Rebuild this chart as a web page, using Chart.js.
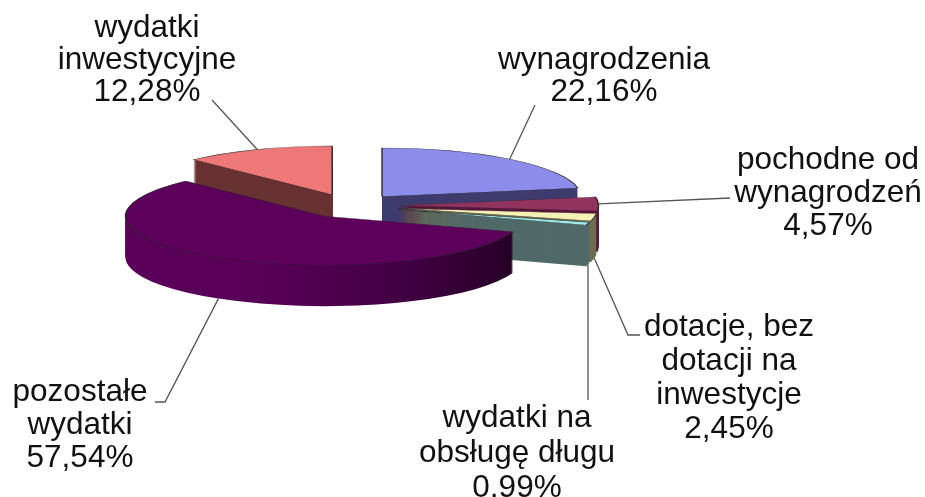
<!DOCTYPE html>
<html>
<head>
<meta charset="utf-8">
<script src="https://cdn.jsdelivr.net/npm/chart.js@4"></script>
<style>
html, body { margin: 0; padding: 0; background: #fff; }
canvas { display: block; filter: blur(0.45px); }
</style>
</head>
<body>
<canvas id="wydatki" width="925" height="497"></canvas>
<script>
// categories and values
var kategorie = [
  ['wynagrodzenia'],
  ['pochodne od', 'wynagrodzeń'],
  ['dotacje, bez', 'dotacji na', 'inwestycje'],
  ['wydatki na', 'obsługę długu'],
  ['pozostałe', 'wydatki'],
  ['wydatki', 'inwestycyjne']
];
var wartosci = [22.16, 4.57, 2.45, 0.99, 57.54, 12.28];

var koloryGora = ['#8c8ceb', '#92325f', '#f5f0b4', '#a0ebeb', '#5c005c', '#ee7878'];
var koloryBok = ['#3e3c6e', '#5a143c', '#6e6e50', '#506969', null, '#693232'];

// 3D look: centre of the unexploded pie, squash, explosion and depth
var srodekX = 350.6, srodekY = 206;
var splaszcz = 0.246;
var wysuniecie = 49;
var glebokosc = 41;
var kolejnosc = [0, 5, 1, 2, 3, 4];

// label centres, first line y, and leader bends
var etykietaX = [604, 828, 729, 517, 80, 147];
var etykietaY = [60, 160, 327, 418, 392, 28];
var krokLinii = [32, 33, 34, 35, 33, 32];
var linieOd = [[535, 105], [730, 198], [640, 335], [588, 400], [155, 402], [212, 100]];
var linieZalamanie = [null, null, [628, 335], null, [165, 402], null];
var linieDolem = [false, false, true, true, true, false];

function kawalek(luk, opcje) {
  var kopia = Object.create(luk);
  kopia.options = Object.assign({}, luk.options, opcje);
  return kopia;
}

function ustaw(ctx, luk, dy) {
  var pol = (luk.startAngle + luk.endAngle) / 2;
  ctx.translate(srodekX + wysuniecie * Math.cos(pol), srodekY + dy + wysuniecie * splaszcz * Math.sin(pol));
  ctx.scale(1, splaszcz);
  ctx.translate(-luk.x, -luk.y);
}

var pie3d = {
  id: 'pie3d',
  beforeDatasetsDraw: function (chart) {
    var ctx = chart.ctx;
    var luki = chart.getDatasetMeta(0).data;
    kolejnosc.forEach(function (i) {
      var luk = luki[i];
      var bok = koloryBok[i];
      if (!bok) {
        // big slice has a shaded rim
        var gr = ctx.createLinearGradient(luk.x - luk.outerRadius, 0, luk.x + luk.outerRadius, 0);
        gr.addColorStop(0, '#5a005a');
        gr.addColorStop(0.35, '#580058');
        gr.addColorStop(0.72, '#400040');
        gr.addColorStop(1, '#240024');
        bok = gr;
      }
      var boczny = kawalek(luk, { backgroundColor: bok, borderColor: bok, borderWidth: 0 });
      for (var d = glebokosc; d > 0; d--) {
        ctx.save();
        ustaw(ctx, luk, d);
        boczny.draw(ctx);
        ctx.restore();
      }
      ctx.save();
      ustaw(ctx, luk, 0);
      luk.draw(ctx);
      ctx.restore();
    });
    return false;
  },
  afterDraw: function (chart) {
    var ctx = chart.ctx;
    var luki = chart.getDatasetMeta(0).data;
    ctx.save();
    ctx.strokeStyle = '#555';
    ctx.lineWidth = 1.3;
    luki.forEach(function (luk, i) {
      var pol = (luk.startAngle + luk.endAngle) / 2;
      var ax = srodekX + wysuniecie * Math.cos(pol) + luk.outerRadius * Math.cos(pol);
      var ay = srodekY + (wysuniecie + luk.outerRadius) * splaszcz * Math.sin(pol) + (linieDolem[i] ? glebokosc : 0);
      ctx.beginPath();
      ctx.moveTo(ax, ay);
      if (linieZalamanie[i]) ctx.lineTo(linieZalamanie[i][0], linieZalamanie[i][1]);
      ctx.lineTo(linieOd[i][0], linieOd[i][1]);
      ctx.stroke();
    });
    ctx.fillStyle = '#111';
    ctx.font = '31.5px "Liberation Sans", Arial, sans-serif';
    ctx.textAlign = 'center';
    ctx.textBaseline = 'middle';
    kategorie.forEach(function (linie, i) {
      var wiersze = linie.concat([wartosci[i].toFixed(2).replace('.', ',') + '%']);
      wiersze.forEach(function (t, n) {
        ctx.fillText(t, etykietaX[i], etykietaY[i] + n * krokLinii[i]);
      });
    });
    ctx.restore();
  }
};

new Chart(document.getElementById('wydatki').getContext('2d'), {
  type: 'pie',
  data: {
    labels: kategorie.map(function (k) { return k.join(' '); }),
    datasets: [{
      data: wartosci,
      backgroundColor: koloryGora,
      borderColor: '#2a2a2a',
      borderWidth: 1.4
    }]
  },
  options: {
    responsive: false,
    animation: false,
    radius: 199,
    plugins: { legend: { display: false }, tooltip: { enabled: false } }
  },
  plugins: [pie3d]
});
</script>
</body>
</html>
